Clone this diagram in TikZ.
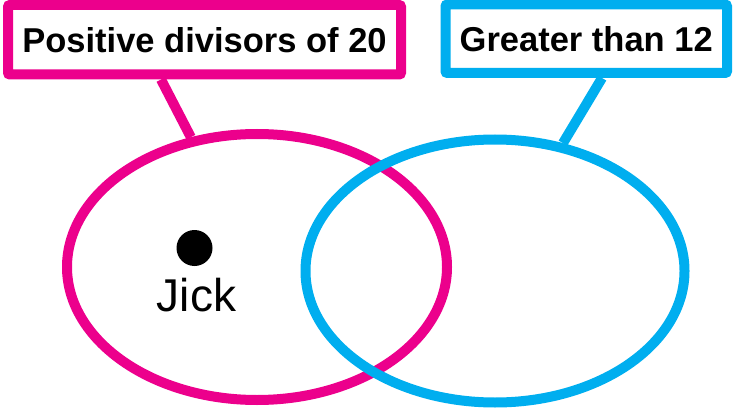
\documentclass[tikz,border=0pt]{standalone}
\usepackage{fontspec}
\setmainfont{Liberation Sans}
\usetikzlibrary{shapes.geometric}
\pgfdeclarelayer{background}
\pgfsetlayers{background,main}
\definecolor{setpink}{HTML}{EC008C}
\definecolor{setblue}{HTML}{00AEEF}
\tikzset{
  labelbox/.style={draw=#1, line width=10pt, fill=white, text=black, rounded corners=2pt, inner sep=0pt,
    font=\fontsize{34.5}{40}\selectfont\bfseries},
  setring/.style={draw=#1, ellipse, line width=10pt, inner sep=0pt},
  link/.style={draw=#1, line width=10pt}
}
\begin{document}
\begin{tikzpicture}[x=1pt,y=-1pt]
\useasboundingbox (0,0) rectangle (733,409);
\node[setring=setpink, minimum width=380pt, minimum height=266pt] (pinkset) at (257,267) {};
\node[setring=setblue, minimum width=379pt, minimum height=263pt] (blueset) at (495,271) {};
\node[labelbox=setpink, minimum width=393pt, minimum height=69.5pt] (pinklabel) at (204.5,39.75) {Positive divisors of 20};
\node[labelbox=setblue, minimum width=281.5pt, minimum height=68.5pt] (bluelabel) at (586.25,38.75) {Greater than 12};
\begin{pgfonlayer}{background}
\draw[link=setpink] ([xshift=-43.5pt]pinklabel.south) -- (pinkset.117);
\draw[link=setblue] ([xshift=15.75pt]bluelabel.south) -- (blueset.62.7);
\end{pgfonlayer}
\node[circle, fill=black, inner sep=0pt, minimum size=36pt] (jickdot) at (194.5,248) {};
\node[anchor=base, inner sep=0pt, font=\fontsize{46}{52}\selectfont] (jick) at (196.5,311) {Jick};
\end{tikzpicture}
\end{document}
